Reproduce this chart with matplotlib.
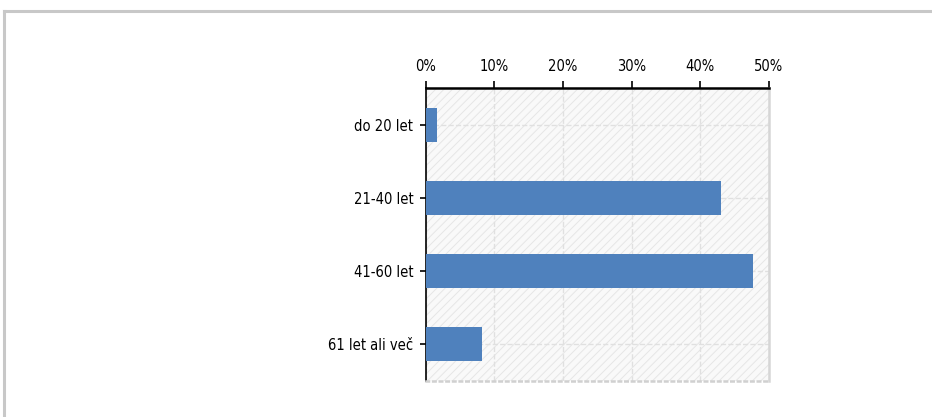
import matplotlib
matplotlib.use("Agg")
import matplotlib.pyplot as plt
from matplotlib.patches import Rectangle
from matplotlib.lines import Line2D
from matplotlib.ticker import FuncFormatter

categories = ["do 20 let", "21-40 let", "41-60 let", "61 let ali več"]
values = [1.6, 43.0, 47.6, 8.2]
xticks = [0, 10, 20, 30, 40, 50]

plt.rcParams['font.family'] = ['DejaVu Sans']
plt.rcParams['font.stretch'] = 'condensed'
plt.rcParams['hatch.linewidth'] = 0.7
plt.rcParams['hatch.color'] = '#e4e4e4'

fig = plt.figure(figsize=(9.32, 4.17), dpi=100)
fig.patch.set_facecolor('white')

# outer frame lines
fig.add_artist(Line2D([3.5/932, 1.0], [1 - 10.5/417, 1 - 10.5/417], color='#c8c8c8', lw=2.2, transform=fig.transFigure))
fig.add_artist(Line2D([3.8/932, 3.8/932], [0, 1 - 10.5/417], color='#c8c8c8', lw=2.2, transform=fig.transFigure))

ax = fig.add_axes([425.7/932, 36.3/417, 343.3/932, 292.4/417])
ax.set_facecolor('#f9f9f9')
ax.add_patch(Rectangle((0, 0), 1, 1, transform=ax.transAxes, facecolor='none',
                       hatch='////', edgecolor='#e6e6e6', lw=0, zorder=0))

y = list(range(len(categories)))
ax.barh(y, values, height=0.47, color='#4f81bd', zorder=3)

ax.set_xlim(0, 50)
ax.set_ylim(len(categories) - 0.5, -0.5)
ax.set_xticks(xticks)
ax.xaxis.set_major_formatter(FuncFormatter(lambda v, p: f"{int(v)}%"))
ax.set_yticks(y)
ax.set_yticklabels(categories)

ax.xaxis.tick_top()
ax.tick_params(axis='x', length=5, width=1.2, color='black', pad=5, labelsize=10.5)
ax.tick_params(axis='y', length=4, width=1.2, color='black', pad=5, labelsize=10.5)

ax.grid(True, color='#e0e0e0', linestyle='--', linewidth=1, zorder=1)
ax.set_axisbelow(True)

ax.spines['top'].set_color('black')
ax.spines['top'].set_linewidth(1.8)
ax.spines['left'].set_color('black')
ax.spines['left'].set_linewidth(1.2)
ax.spines['right'].set_color('#d6d6d6')
ax.spines['right'].set_linewidth(1.8)
ax.spines['bottom'].set_color('#d0d0d0')
ax.spines['bottom'].set_linewidth(1.8)
ax.spines['bottom'].set_linestyle(':')

fig.savefig('out.png', dpi=100)
